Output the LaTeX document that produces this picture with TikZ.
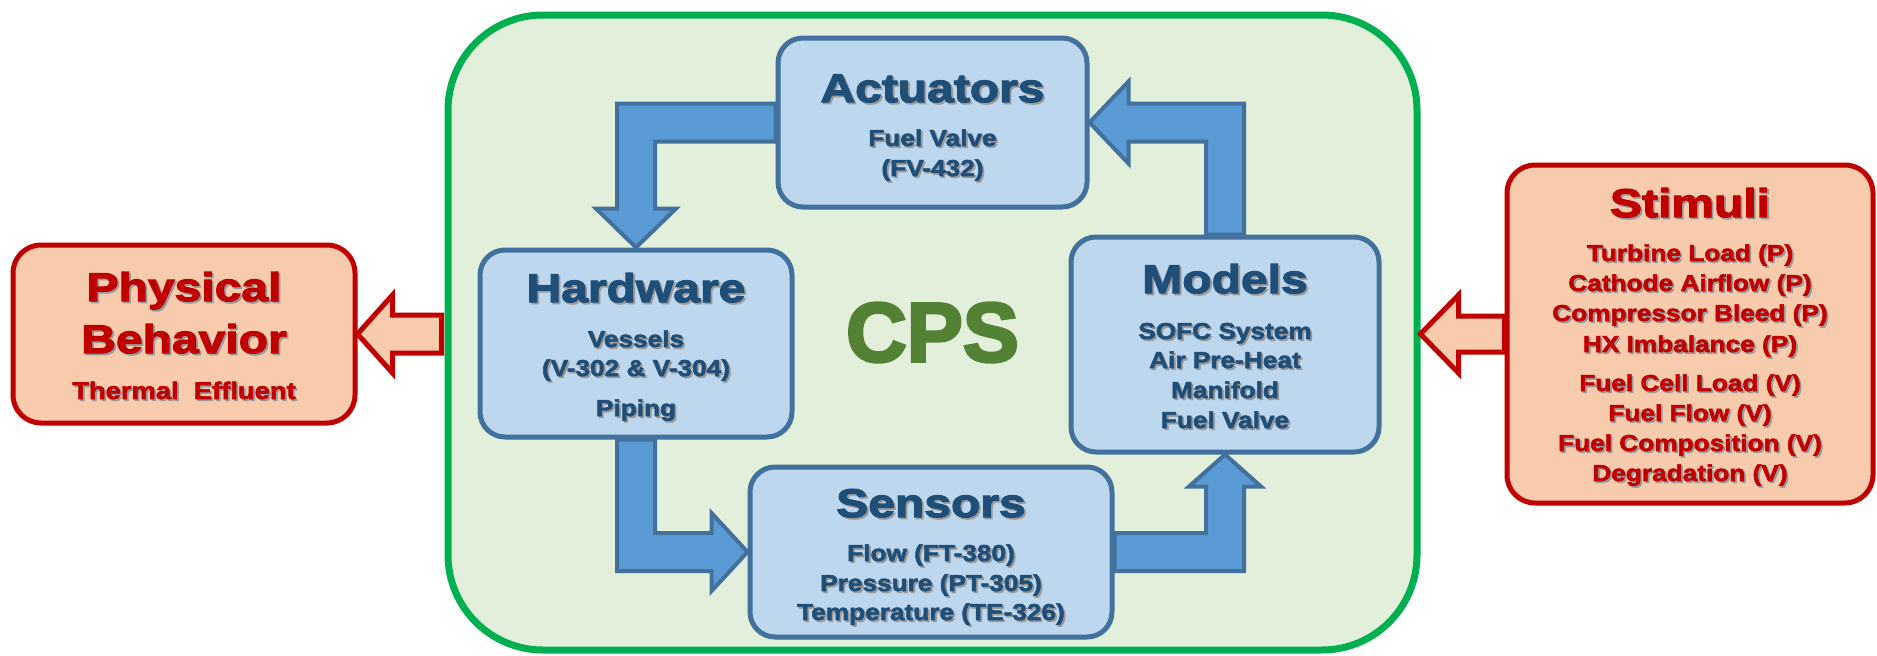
\documentclass[tikz,border=0pt]{standalone}
\usepackage{fontspec}
\setmainfont{Liberation Sans}
\newfontfamily\titlefont{Liberation Sans}[FakeStretch=1.2,BoldFeatures={FakeBold=3}]
\newfontfamily\subfont{Liberation Sans}[FakeStretch=1.14,BoldFeatures={FakeBold=2.4}]
\newfontfamily\cpsfont{Liberation Sans}[BoldFeatures={FakeBold=3.5}]
\usetikzlibrary{calc}
\definecolor{grline}{HTML}{00B050}
\definecolor{grfill}{HTML}{E2EFDA}
\definecolor{bfill}{HTML}{BDD7EE}
\definecolor{bline}{HTML}{41719C}
\definecolor{btext}{HTML}{1F4E79}
\definecolor{afill}{HTML}{5B9BD5}
\definecolor{cpsgreen}{HTML}{548235}
\definecolor{rfill}{HTML}{F8CBAD}
\definecolor{rline}{HTML}{C00000}
\definecolor{shadowcol}{HTML}{9A9A9A}
\newcommand\sh[1]{\leavevmode\rlap{\kern1.8pt\raisebox{-1.8pt}{\textcolor{shadowcol}{#1}}}#1}
\pgfdeclarelayer{back}
\pgfdeclarelayer{mid}
\pgfsetlayers{back,mid,main}
\begin{document}
\begin{tikzpicture}[x=1pt,y=-1pt,
  bluebox/.style={draw=bline,fill=bfill,line width=5pt,rounded corners=25pt,inner sep=0pt},
  redbox/.style={draw=rline,fill=rfill,line width=5pt,rounded corners=28pt,inner sep=0pt},
  blockarrow/.style={draw=bline,fill=afill,line width=4pt,line join=miter},
  redarrow/.style={draw=rline,fill=rfill,line width=5pt,line join=miter},
  btitle/.style={anchor=base,text=btext,font=\titlefont\fontsize{40}{48}\selectfont\bfseries,inner sep=0pt},
  bsub/.style={anchor=base,text=btext,font=\subfont\fontsize{23}{28}\selectfont\bfseries,inner sep=0pt},
  rtitle/.style={btitle,text=rline},
  rsub/.style={bsub,text=rline},
]
\useasboundingbox (0,0) rectangle (1877,656);

% CPS container
\begin{pgfonlayer}{back}
\node[draw=grline,fill=grfill,line width=7pt,rounded corners=95pt,inner sep=0pt,
      minimum width=969pt,minimum height=635pt,text=cpsgreen,
      font=\cpsfont\fontsize{84}{90}\selectfont\bfseries] (cpsbox) at (932.5,332.5) {CPS};
\end{pgfonlayer}

% boxes
\node[bluebox,minimum width=309pt,minimum height=169pt] (act) at (932.5,122.5) {};
\node[bluebox,minimum width=312pt,minimum height=187pt] (hw) at (636,343.5) {};
\node[bluebox,minimum width=362pt,minimum height=170pt] (sen) at (931,552) {};
\node[bluebox,minimum width=308pt,minimum height=215pt] (mod) at (1225,344.5) {};
\node[redbox,minimum width=342pt,minimum height=178pt] (phys) at (184,334) {};
\node[redbox,minimum width=366pt,minimum height=338pt] (stim) at (1690,334) {};

% texts: Actuators
\node[btitle] (act-t) at (932.5,102) {\sh{Actuators}};
\node[bsub] (act-1) at (932.5,146) {\sh{Fuel Valve}};
\node[bsub] (act-2) at (932.5,176) {\sh{(FV-432)}};
% Hardware
\node[btitle] (hw-t) at (636,302) {\sh{Hardware}};
\node[bsub] (hw-1) at (636,347) {\sh{Vessels}};
\node[bsub] (hw-2) at (636,376) {\sh{(V-302 \& V-304)}};
\node[bsub] (hw-3) at (636,416) {\sh{Piping}};
% Sensors
\node[btitle] (sen-t) at (931,517) {\sh{Sensors}};
\node[bsub] (sen-1) at (931,561) {\sh{Flow (FT-380)}};
\node[bsub] (sen-2) at (931,591) {\sh{Pressure (PT-305)}};
\node[bsub] (sen-3) at (931,620) {\sh{Temperature (TE-326)}};
% Models
\node[btitle] (mod-t) at (1225,293) {\sh{Models}};
\node[bsub] (mod-1) at (1225,339) {\sh{SOFC System}};
\node[bsub] (mod-2) at (1225,368) {\sh{Air Pre-Heat}};
\node[bsub] (mod-3) at (1225,398) {\sh{Manifold}};
\node[bsub] (mod-4) at (1225,428) {\sh{Fuel Valve}};
% Physical behavior
\node[rtitle] (phys-t1) at (184,301) {\sh{Physical}};
\node[rtitle] (phys-t2) at (184,353) {\sh{Behavior}};
\node[rsub,font=\subfont\fontsize{24}{28}\selectfont\bfseries] (phys-1) at (184,399) {\sh{Thermal\ \ Effluent}};
% Stimuli
\node[rtitle] (stim-t) at (1690,217) {\sh{Stimuli}};
\node[rsub] (stim-1) at (1690,261) {\sh{Turbine Load (P)}};
\node[rsub] (stim-2) at (1690,291) {\sh{Cathode Airflow (P)}};
\node[rsub] (stim-3) at (1690,321) {\sh{Compressor Bleed (P)}};
\node[rsub] (stim-4) at (1690,352) {\sh{HX Imbalance (P)}};
\node[rsub] (stim-5) at (1690,391) {\sh{Fuel Cell Load (V)}};
\node[rsub] (stim-6) at (1690,421) {\sh{Fuel Flow (V)}};
\node[rsub] (stim-7) at (1690,451) {\sh{Fuel Composition (V)}};
\node[rsub] (stim-8) at (1690,481) {\sh{Degradation (V)}};

% arrows
\begin{pgfonlayer}{mid}
\coordinate (c1) at (hw.north |- act.west);
\draw[blockarrow] ($(act.west)+(0,-19)$) -- ($(c1)+(-19,-19)$) -- ($(hw.north)+(-19,-39)$) -- ($(hw.north)+(-40,-39)$) -- (hw.north) -- ($(hw.north)+(40,-39)$) -- ($(hw.north)+(19,-39)$) -- ($(c1)+(19,19)$) -- ($(act.west)+(0,19)$) -- cycle;

\coordinate (c2) at (mod.north |- act.east);
\draw[blockarrow] ($(mod.north)+(-19,0)$) -- ($(c2)+(-19,19)$) -- ($(act.east)+(39,19)$) -- ($(act.east)+(39,41)$) -- (act.east) -- ($(act.east)+(39,-41)$) -- ($(act.east)+(39,-19)$) -- ($(c2)+(19,-19)$) -- ($(mod.north)+(19,0)$) -- cycle;

\coordinate (c3) at (hw.south |- sen.west);
\draw[blockarrow] ($(hw.south)+(-19,0)$) -- ($(c3)+(-19,19)$) -- ($(sen.west)+(-36,19)$) -- ($(sen.west)+(-36,39)$) -- (sen.west) -- ($(sen.west)+(-36,-39)$) -- ($(sen.west)+(-36,-19)$) -- ($(c3)+(19,-19)$) -- ($(hw.south)+(19,0)$) -- cycle;

\coordinate (c4) at (mod.south |- sen.east);
\draw[blockarrow] ($(sen.east)+(0,19)$) -- ($(c4)+(19,19)$) -- ($(mod.south)+(19,32)$) -- ($(mod.south)+(36,32)$) -- (mod.south) -- ($(mod.south)+(-36,32)$) -- ($(mod.south)+(-19,32)$) -- ($(c4)+(-19,-19)$) -- ($(sen.east)+(0,-19)$) -- cycle;

\coordinate (r1) at (cpsbox.west |- phys.east);
\draw[redarrow] ($(r1)+(-3,-19)$) -- ($(phys.east)+(35,-19)$) -- ($(phys.east)+(35,-39)$) -- (phys.east) -- ($(phys.east)+(35,39)$) -- ($(phys.east)+(35,19)$) -- ($(r1)+(-3,19)$) -- cycle;

\coordinate (r2) at (cpsbox.east |- stim.west);
\draw[redarrow] ($(stim.west)+(0,-18)$) -- ($(r2)+(38,-18)$) -- ($(r2)+(38,-39)$) -- (r2) -- ($(r2)+(38,39)$) -- ($(r2)+(38,18)$) -- ($(stim.west)+(0,18)$) -- cycle;
\end{pgfonlayer}
\end{tikzpicture}
\end{document}
